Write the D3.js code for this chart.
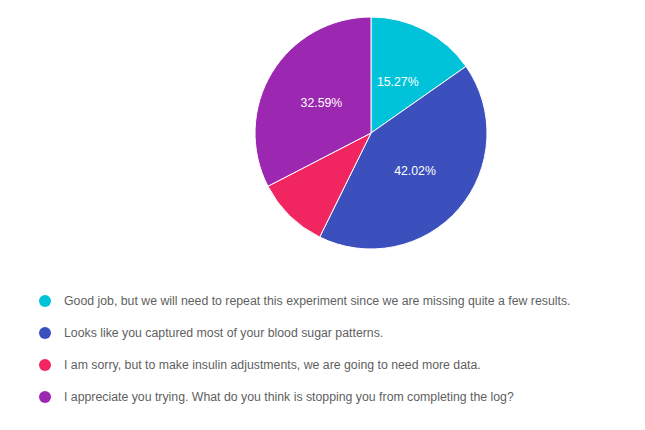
<!DOCTYPE html>
<html>
<head>
<meta charset="utf-8">
<script src="https://cdn.jsdelivr.net/npm/d3@7"></script>
<style>
  body { margin: 0; background: #fff; }
  svg { font-family: "Liberation Sans", Arial, sans-serif; }
</style>
</head>
<body>
<svg width="645" height="430"></svg>
<script>
// chart data
var answers = [
    'Good job, but we will need to repeat this experiment since we are missing quite a few results.',
    'Looks like you captured most of your blood sugar patterns.',
    'I am sorry, but to make insulin adjustments, we are going to need more data.',
    'I appreciate you trying. What do you think is stopping you from completing the log?'
];
var shares = [15.27, 42.02, 10.12, 32.59];
var colors = ['#00c3da', '#3b4fbd', '#f12660', '#9c27b0'];

var svg = d3.select('svg');

var cx = 371, cy = 133, radius = 116;

var slices = answers.map(function (a, i) {
    return { answer: a, share: shares[i], color: colors[i] };
});

var pie = d3.pie()
    .value(function (d) { return d.share; })
    .sort(null);

var arc = d3.arc().innerRadius(0).outerRadius(radius);
var labelArc = d3.arc().innerRadius(radius * 0.5).outerRadius(radius * 0.5);

var pieG = svg.append('g')
    .attr('transform', `translate(${cx}, ${cy})`);

var arcs = pie(slices);

pieG.selectAll('.slice')
    .data(arcs)
    .enter()
    .append('path')
    .attr('class', 'slice')
    .attr('d', arc)
    .attr('fill', function (d) { return d.data.color; })
    .attr('stroke', '#fff')
    .attr('stroke-width', 1);

// percentage labels (google-style: skip tiny slices)
pieG.selectAll('.pct')
    .data(arcs.filter(function (d) { return d.data.share > 12; }))
    .enter()
    .append('text')
    .attr('class', 'pct')
    .attr('transform', function (d) { return `translate(${labelArc.centroid(d)})`; })
    .attr('text-anchor', 'middle')
    .attr('dy', '0.35em')
    .attr('fill', '#fff')
    .style('font-size', '12.3px')
    .text(function (d) { return d.data.share.toFixed(2) + '%'; });

// legend
var legendY = d3.scalePoint()
    .domain(answers)
    .range([301, 397]);

var legendG = svg.selectAll('.legend-item')
    .data(slices)
    .enter()
    .append('g')
    .attr('class', 'legend-item')
    .attr('transform', function (d) { return `translate(45, ${legendY(d.answer)})`; });

legendG.append('circle')
    .attr('r', 6)
    .attr('fill', function (d) { return d.color; });

legendG.append('text')
    .attr('x', 19)
    .attr('dy', '0.35em')
    .attr('fill', '#5f5f5f')
    .style('font-size', '12.3px')
    .text(function (d) { return d.answer; });
</script>
</body>
</html>
